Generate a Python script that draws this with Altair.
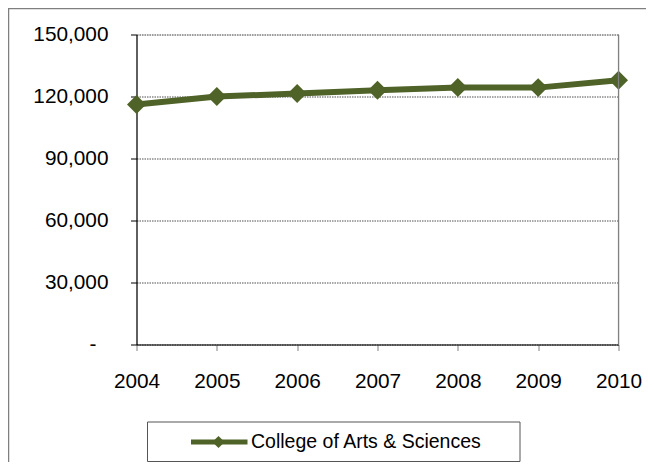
import altair as alt
import pandas as pd

years = ["2004", "2005", "2006", "2007", "2008", "2009", "2010"]
values = [116100, 120000, 121400, 123000, 124400, 124300, 127900]
series_name = "College of Arts & Sciences"
y_ticks = [0, 30000, 60000, 90000, 120000, 150000]
zero_label = "-"

df = pd.DataFrame({"year": years, "value": values, "series": series_name})
leg = pd.DataFrame({"series": [series_name]})
zero_df = pd.DataFrame({"value": [0], "label": [zero_label]})

W, H = 482, 310
GREEN = "#4F6228"
FONT = "Liberation Sans"

x_enc = alt.X("year:O", scale=alt.Scale(padding=0),
              axis=alt.Axis(title=None, labelAngle=0, labelFont=FONT, labelFontSize=20.8,
                            labelColor="black", labelPadding=20.5, tickSize=6,
                            tickColor="#808080", domainColor="black", domainWidth=1.2,
                            grid=False))
y_scale = alt.Scale(domain=[0, 150000], nice=False)
y_enc = alt.Y("value:Q", scale=y_scale,
              axis=alt.Axis(title=None, values=y_ticks, labelFont=FONT, labelFontSize=20.8,
                            labelColor="black", labelPadding=22.5, tickSize=6,
                            tickColor="black", domainColor="black", domainWidth=1.2,
                            labelExpr="datum.value == 0 ? '' : format(datum.value, ',')",
                            grid=True, gridColor="#3a3a3a", gridDash=[1.5, 1], gridWidth=0.9))

outer = alt.Chart(leg).mark_rect(fill="white", fillOpacity=0, stroke="#7f7f7f", strokeWidth=1.5).encode(
    x=alt.value(-128), x2=alt.value(700), y=alt.value(-26), y2=alt.value(600))

right_border = alt.Chart(leg).mark_rule(color="#808080", strokeWidth=1.2).encode(
    x=alt.value(W), y=alt.value(0), y2=alt.value(H))

line = alt.Chart(df).mark_line(color=GREEN, strokeWidth=6).encode(x=x_enc, y=y_enc)
pts = alt.Chart(df).mark_point(shape="diamond", filled=True, color=GREEN, size=360, opacity=1).encode(
    x="year:O", y="value:Q")

zero_txt = alt.Chart(zero_df).mark_text(align="center", baseline="middle", font=FONT,
                                        fontSize=20.8, color="black").encode(
    x=alt.value(-43.5), y=alt.Y("value:Q", scale=y_scale), text="label:N")

LY = 407.5
leg_box = alt.Chart(leg).mark_rect(fill="white", stroke="#555555", strokeWidth=1).encode(
    x=alt.value(11), x2=alt.value(383.5), y=alt.value(387.5), y2=alt.value(427))
leg_line = alt.Chart(leg).mark_rule(color=GREEN, strokeWidth=5).encode(
    x=alt.value(54.5), x2=alt.value(111), y=alt.value(LY))
leg_pt = alt.Chart(leg).mark_point(shape="diamond", filled=True, color=GREEN, size=150, opacity=1).encode(
    x=alt.value(82), y=alt.value(LY))
leg_txt = alt.Chart(leg).mark_text(align="left", baseline="middle", font=FONT, fontSize=19.5,
                                   color="black").encode(
    x=alt.value(114.5), y=alt.value(LY), text="series:N")

chart = alt.layer(outer, line, pts, zero_txt, right_border, leg_box, leg_line, leg_pt, leg_txt).properties(
    width=W, height=H,
    autosize=alt.AutoSizeParams(type="none"),
    padding={"left": 128.5, "top": 26.5, "right": 27.5, "bottom": 117.5},
).configure_view(stroke=None).configure(background="white")

chart.save("out.html", embed_options={"renderer": "svg", "actions": False})
